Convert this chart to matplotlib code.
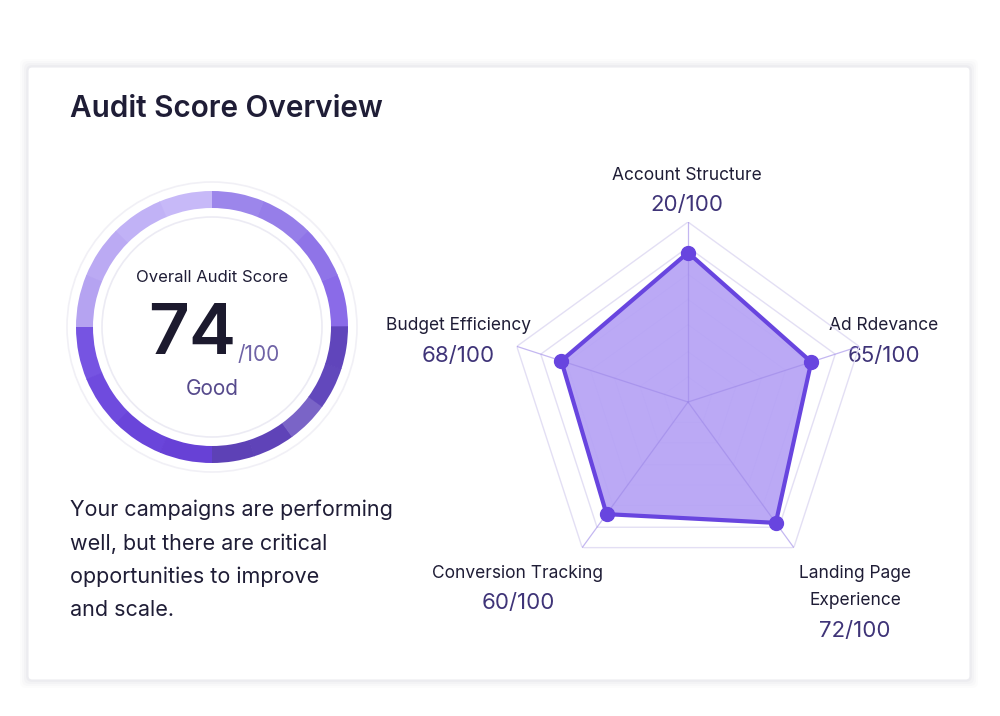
import numpy as np
import matplotlib
matplotlib.use("Agg")
import matplotlib.pyplot as plt
from matplotlib.patches import Wedge, Circle, FancyBboxPatch

plt.rcParams['font.family'] = ['Inter', 'DejaVu Sans']

# Data
categories = ["Account Structure", "Ad Rdevance", "Landing Page\nExperience",
              "Conversion Tracking", "Budget Efficiency"]
label_scores = [20, 65, 72, 60, 68]          # numbers printed beside each axis
plotted = [83, 72, 83, 77, 74]               # where the dots are drawn (0-100 scale)
grid_levels = [14, 28, 43, 57, 71, 86, 100]
overall_score = 74
overall_max = 100
rating = "Good"
summary = ("Your campaigns are performing\nwell, but there are critical\n"
           "opportunities to improve\nand scale.")

# gauge ring: (start angle, end angle, colour), angles counter-clockwise from 3 o'clock
ring_segments = [
    (0, 90, ["#8a6be8", "#8f74e8", "#967ee9", "#9c86eb"]),
    (90, 180, ["#c7b9f8", "#c1b2f6", "#bbaaf3", "#b5a3f1"]),
    (180, 270, ["#7654e2", "#6f4bde", "#6a45da", "#6741d6"]),
    (270, 360, ["#5d41b6", "#5f43b8", "#7a64c7", "#6248bc", "#6045bb"]),
]

DARK = "#1f1d36"
SCORE = "#3f3478"
PURPLE = "#6845df"

W, H = 1000, 716
fig = plt.figure(figsize=(W / 100, H / 100), dpi=100)
fig.patch.set_facecolor("white")

ax = fig.add_axes([0, 0, 1, 1])
ax.set_xlim(0, W)
ax.set_ylim(0, H)
ax.axis("off")


def Y(y):
    return H - y


# card with soft shadow
for i, a in enumerate([0.025, 0.03, 0.04, 0.05]):
    pad = 8 - 2 * i
    ax.add_patch(FancyBboxPatch((28 - pad, Y(680) - pad), 942 + 2 * pad, 613 + 2 * pad,
                                boxstyle="round,pad=0,rounding_size=6",
                                fc="#8a8aa0", ec="none", alpha=a, zorder=0))
ax.add_patch(FancyBboxPatch((28, Y(680)), 942, 613,
                            boxstyle="round,pad=0,rounding_size=4",
                            fc="white", ec="#ececf0", lw=0.8, zorder=1))

ax.text(70, Y(109), "Audit Score Overview", fontsize=21.4, fontweight="semibold",
        color=DARK, va="center", ha="left", zorder=3)

# gauge
cx, cy = 212, Y(327)
r_out, width = 136, 17
ax.add_patch(Circle((cx, cy), 145, fc="none", ec="#f1f0f6", lw=1.2, zorder=2))
for a0, a1, cols in ring_segments:
    step = (a1 - a0) / len(cols)
    for k, c in enumerate(cols):
        ax.add_patch(Wedge((cx, cy), r_out, a0 + k * step, a0 + (k + 1) * step + 0.3,
                           width=width, fc=c, ec="none", zorder=3))
ax.add_patch(Circle((cx, cy), 110, fc="none", ec="#ecebf4", lw=1.2, zorder=3))

ax.text(cx, Y(277), "Overall Audit Score", fontsize=12, color=DARK,
        ha="center", va="center", zorder=4)
ax.text(cx - 20, Y(336), str(overall_score), fontsize=51, fontweight="semibold",
        color="#1c1a2e", ha="center", va="center", zorder=4)
ax.text(238, Y(355), f"/{overall_max}", fontsize=15, color="#6f63a6",
        ha="left", va="center", zorder=4)
ax.text(cx, Y(389), rating, fontsize=15, color="#564a8c",
        ha="center", va="center", zorder=4)

ax.text(70, Y(500), summary, fontsize=15.5, color=DARK, ha="left", va="top",
        linespacing=1.78, zorder=4)

# radar
rcx, rcy, rr = 688, 402, 180
rax = fig.add_axes([(rcx - rr) / W, (H - rcy - rr) / H, 2 * rr / W, 2 * rr / H],
                   projection="polar")
rax.set_theta_offset(np.pi / 2)
rax.set_theta_direction(-1)
rax.set_ylim(0, 100)
rax.axis("off")
rax.patch.set_alpha(0)

n = len(categories)
theta = np.linspace(0, 2 * np.pi, n, endpoint=False)
theta_c = np.append(theta, theta[0])

for lv in grid_levels:
    rax.plot(theta_c, [lv] * (n + 1), color="#e3dff4", lw=1.0, zorder=1)

vals = np.array(plotted + plotted[:1])
rax.fill(theta_c, vals, color="#b7a4f5", alpha=0.94, zorder=2, lw=0)
for t in theta:
    rax.plot([t, t], [0, 100], color="#9d88e8", lw=0.9, alpha=0.6, zorder=3)
rax.plot(theta_c, vals, color=PURPLE, lw=3, zorder=4, solid_joinstyle="round")
rax.plot(theta, plotted, "o", color=PURPLE, ms=10, zorder=5)

# axis labels (pixel positions of the text blocks)
label_pos = [(687, 176, 205), (884, 325, 356), (855, 587, 631),
             (518, 573, 603), (458, 325, 356)]
for name, score, (lx, ly, sy) in zip(categories, label_scores, label_pos):
    ax.text(lx, Y(ly), name, fontsize=12.5, color=DARK, ha="center", va="center",
            linespacing=1.7, zorder=4)
    ax.text(lx, Y(sy), f"{score}/100", fontsize=16, color=SCORE, ha="center",
            va="center", zorder=4)

fig.savefig("out.png", dpi=100, facecolor="white")
